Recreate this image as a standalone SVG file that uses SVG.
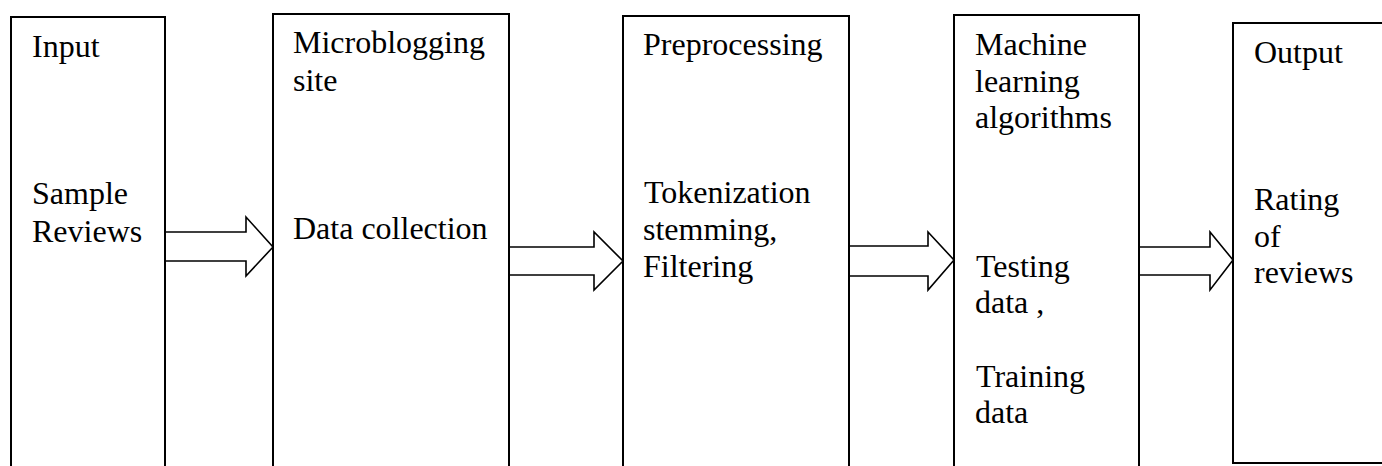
<svg xmlns="http://www.w3.org/2000/svg" width="1382" height="466" viewBox="0 0 1382 466">
<style>
.box{fill:#fff;stroke:#000;stroke-width:2}
.arr{fill:#fff;stroke:#000;stroke-width:1.6}
</style>
<rect width="1382" height="466" fill="#fff"/>
<g id="connectors">
<path class="arr" d="M165,232 H246 V217 L273,247 L246,276 V261 H165"/>
<path class="arr" d="M509,247 H594 V232 L623,261 L594,290 V275 H509"/>
<path class="arr" d="M849,246 H928 V232 L954,260 L928,290 V276 H849"/>
<path class="arr" d="M1139,247 H1210 V232 L1233,260 L1210,290 V275 H1139"/>
</g>
<g id="input">
<rect class="box" x="11" y="17" width="154" height="460"/>
<text x="32" y="57" font-family="Times New Roman, serif" font-size="32">Input</text>
<text x="32" y="204" font-family="Times New Roman, serif" font-size="32">Sample</text>
<text x="32" y="242" font-family="Times New Roman, serif" font-size="32">Reviews</text>
</g>
<g id="microblogging">
<rect class="box" x="273" y="14" width="236" height="460"/>
<text x="293" y="53" font-family="Times New Roman, serif" font-size="32">Microblogging</text>
<text x="293" y="91" font-family="Times New Roman, serif" font-size="32">site</text>
<text x="293" y="239" font-family="Times New Roman, serif" font-size="32">Data collection</text>
</g>
<g id="preprocessing">
<rect class="box" x="623" y="16" width="226" height="460"/>
<text x="643" y="55" font-family="Times New Roman, serif" font-size="32">Preprocessing</text>
<text x="644" y="203" font-family="Times New Roman, serif" font-size="32">Tokenization</text>
<text x="643" y="240" font-family="Times New Roman, serif" font-size="32">stemming,</text>
<text x="643" y="277" font-family="Times New Roman, serif" font-size="32">Filtering</text>
</g>
<g id="ml">
<rect class="box" x="954" y="15" width="185" height="460"/>
<text x="975" y="55" font-family="Times New Roman, serif" font-size="32">Machine</text>
<text x="975" y="92" font-family="Times New Roman, serif" font-size="32">learning</text>
<text x="975" y="128" font-family="Times New Roman, serif" font-size="32">algorithms</text>
<text x="976" y="277" font-family="Times New Roman, serif" font-size="32">Testing</text>
<text x="975" y="313" font-family="Times New Roman, serif" font-size="32">data ,</text>
<text x="976" y="387" font-family="Times New Roman, serif" font-size="32">Training</text>
<text x="975" y="423" font-family="Times New Roman, serif" font-size="32">data</text>
</g>
<g id="output">
<rect class="box" x="1233" y="23" width="160" height="440"/>
<text x="1254" y="63" font-family="Times New Roman, serif" font-size="32">Output</text>
<text x="1254" y="210" font-family="Times New Roman, serif" font-size="32">Rating</text>
<text x="1254" y="247" font-family="Times New Roman, serif" font-size="32">of</text>
<text x="1254" y="283" font-family="Times New Roman, serif" font-size="32">reviews</text>
</g>
</svg>
